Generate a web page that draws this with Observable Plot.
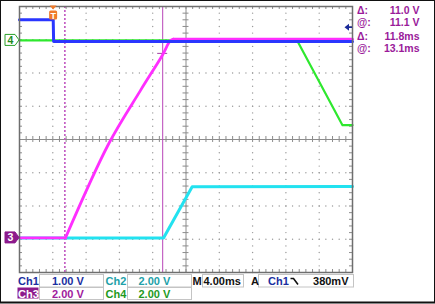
<!DOCTYPE html>
<html><head><meta charset="utf-8">
<script src="https://cdn.jsdelivr.net/npm/d3@7"></script>
<script src="https://cdn.jsdelivr.net/npm/@observablehq/plot@0.6"></script>
<style>
html,body{margin:0;padding:0;background:#fff;}
#chart svg{display:block;}
</style></head>
<body><div id="chart"></div>
<script>
// ---- data (time in ms relative to trigger, values in volts) ----
const timeDomain = [-4.1, 35.9];     // 10 div x 4 ms
const msPerDiv = 4;
const divRange = [-4, 4];

const channelNames = ["Ch1", "Ch2", "Ch3", "Ch4"];
const voltsPerDiv = [1, 2, 2, 2];
const groundDiv = [2.98, -2.96, -2.96, 2.98];
const traceColors = ["#2a36ff", "#22e2f0", "#ff2eff", "#2ee82e"];
const labelColors = ["#1a2fa0", "#22a0a8", "#a0209c", "#1e9a1e"];

const ch1Time  = [-4.1, -0.05, 0, 35.9];
const ch1Volts = [0.62, 0.62, -0.03, -0.03];
const ch2Time  = [-4.1, 13.2, 16.64, 35.9];
const ch2Volts = [0, 0, 3.08, 3.1];
const ch3Time  = [-4.1, 1.42, 6.6, 10.42, 13.03, 14.03, 14.39, 35.9];
const ch3Volts = [0, 0, 5.65, 8.86, 10.96, 11.87, 11.95, 11.95];
const ch4Time  = [-4.1, 29.25, 34.7, 35.9];
const ch4Volts = [0, 0, -5.1, -5.1];

const cursorTimes = [1.35, 13.1];
const cursorVoltCh3 = 11.1;
const triggerTime = 0;
const triggerLevelCh1 = 0.38;

const scaleLabels = ["1.00 V", "2.00 V", "2.00 V", "2.00 V"];
const timebaseLabel = "4.00ms";
const triggerLabel = "380mV";
const cursorReadout = [["Δ:", "11.0 V"], ["@:", "11.1 V"], ["Δ:", "11.8ms"], ["@:", "13.1ms"]];

// ---- build tables ----
const toDiv = (ch, v) => groundDiv[ch] + v / voltsPerDiv[ch];
const traceData = [ch1Time, ch2Time, ch3Time, ch4Time].map((ts, ch) =>
  ts.map((t, i) => ({t, d: toDiv(ch, [ch1Volts, ch2Volts, ch3Volts, ch4Volts][ch][i])})));
// Ch3: flat parts drawn straight, ramp part smoothed
const ch3Flat1 = traceData[2].slice(0, 2);
const ch3Ramp = traceData[2].slice(1, 7);
const ch3Flat2 = traceData[2].slice(6);

const minorX = d3.range(0, 51).map(i => timeDomain[0] + i * msPerDiv / 5);
const minorY = d3.range(0, 41).map(i => divRange[0] + i * 0.2);
const majorX = d3.range(1, 10).filter(k => k !== 5).map(k => timeDomain[0] + k * msPerDiv);
const majorY = [-3, -2, -1, 1, 2, 3];
const centerX = timeDomain[0] + 5 * msPerDiv;
const gridDots = [
  ...majorX.flatMap(x => minorY.map(y => ({x, y}))),
  ...majorY.flatMap(y => minorX.map(x => ({x, y})))
];
const tk = 0.09, tkx = 0.36;
const gridColor = "#9a9a9a";

const plot = Plot.plot({
  width: 435, height: 304,
  marginLeft: 19, marginRight: 83, marginTop: 6, marginBottom: 32,
  x: {domain: timeDomain, axis: null},
  y: {domain: divRange, axis: null},
  style: {background: "#fff", overflow: "visible"},
  marks: [
    Plot.dot(gridDots, {x: "x", y: "y", r: 0.7, fill: gridColor, stroke: null}),
    Plot.ruleY([0], {stroke: "#8c8c8c", strokeWidth: 1}),
    Plot.ruleX([centerX], {stroke: "#8c8c8c", strokeWidth: 1}),
    Plot.ruleX(minorX, {x: d => d, y1: -tk, y2: tk, stroke: "#8c8c8c"}),
    Plot.ruleY(minorY, {y: d => d, x1: centerX - tkx, x2: centerX + tkx, stroke: "#8c8c8c"}),
    Plot.ruleX(minorX, {x: d => d, y1: 4, y2: 4 - tk, stroke: "#8c8c8c"}),
    Plot.ruleX(minorX, {x: d => d, y1: -4, y2: -4 + tk, stroke: "#8c8c8c"}),
    Plot.ruleY(minorY, {y: d => d, x1: timeDomain[0], x2: timeDomain[0] + tkx, stroke: "#8c8c8c"}),
    Plot.ruleY(minorY, {y: d => d, x1: timeDomain[1], x2: timeDomain[1] - tkx, stroke: "#8c8c8c"}),
    // cursors
    Plot.ruleX([cursorTimes[0]], {stroke: "#c055c0", strokeWidth: 1.6, strokeDasharray: "2,2"}),
    Plot.ruleX([cursorTimes[1]], {stroke: "#b844b8", strokeWidth: 1}),
    Plot.ruleY([toDiv(2, cursorVoltCh3)], {x1: cursorTimes[1] - 0.6, x2: cursorTimes[1] + 0.6, stroke: "#a040a0", strokeWidth: 1}),
    // traces
    Plot.line(traceData[3], {x: "t", y: "d", stroke: traceColors[3], strokeWidth: 2.2}),
    Plot.line(traceData[1], {x: "t", y: "d", stroke: traceColors[1], strokeWidth: 3}),
    Plot.line(ch3Flat1, {x: "t", y: "d", stroke: traceColors[2], strokeWidth: 2.8}),
    Plot.line(ch3Ramp, {x: "t", y: "d", stroke: traceColors[2], strokeWidth: 2.8, curve: "catmull-rom"}),
    Plot.line(ch3Flat2, {x: "t", y: "d", stroke: traceColors[2], strokeWidth: 2.8}),
    Plot.line(traceData[0], {x: "t", y: "d", stroke: traceColors[0], strokeWidth: 3}),
    Plot.frame({stroke: "#6e6e6e", strokeWidth: 1.5})
  ]
});
document.getElementById("chart").appendChild(plot);

// ---- instrument chrome ----
const svg = d3.select(plot);
const xs = plot.scale("x"), ys = plot.scale("y");
const font = "'Liberation Sans', Arial, sans-serif";
const txt = (x, y, s, color, opts = {}) => svg.append("text")
  .attr("x", x).attr("y", y).text(s)
  .attr("fill", color).attr("font-family", font)
  .attr("font-size", opts.size || 11).attr("font-weight", opts.weight || "bold")
  .attr("text-anchor", opts.anchor || "start");

// outer black border
svg.append("rect").attr("x", 0.5).attr("y", 0.5).attr("width", 434).attr("height", 302)
  .attr("fill", "none").attr("stroke", "#111").attr("stroke-width", 1);
svg.append("line").attr("x1", 0).attr("x2", 435).attr("y1", 302.5).attr("y2", 302.5)
  .attr("stroke", "#111").attr("stroke-width", 2);

// ground markers for Ch4 and Ch3
[[3, false], [2, true]].forEach(([ch, filled]) => {
  const yc = ys.apply(groundDiv[ch]);
  svg.append("path")
    .attr("d", `M5,${yc - 5.5}H15L19,${yc}L15,${yc + 5.5}H5Z`)
    .attr("fill", filled ? "#8c1a8c" : "#fff")
    .attr("stroke", filled ? "#8c1a8c" : "#2aa02a").attr("stroke-width", 1);
  txt(10.5, yc + 4, channelNames[ch].slice(2), filled ? "#fff" : "#1e8a1e", {anchor: "middle", size: 10.5});
});

// trigger position marker
const tx = xs.apply(triggerTime);
svg.append("path").attr("d", `M${tx - 3.5},5.5H${tx + 3.5}L${tx},9.5Z`).attr("fill", "#f07a2a");
svg.append("rect").attr("x", tx - 4).attr("y", 10.5).attr("width", 8).attr("height", 9)
  .attr("rx", 1.5).attr("fill", "#f07a2a");
txt(tx, 18.5, "T", "#fff", {anchor: "middle", size: 9});

// trigger level marker (Ch1)
const ty = ys.apply(toDiv(0, triggerLevelCh1));
svg.append("path").attr("d", `M344.5,${ty}L349,${ty - 3.5}V${ty + 3.5}Z`).attr("fill", "#1a2a9a");
svg.append("line").attr("x1", 348).attr("x2", 352).attr("y1", ty).attr("y2", ty)
  .attr("stroke", "#1a2a9a").attr("stroke-width", 1.5);

// cursor readouts
const ry = [14, 26, 40, 52];
cursorReadout.forEach(([a, b], i) => {
  txt(357, ry[i], a, "#9a1a9a", {size: 10.5});
  txt(419.5, ry[i], b, "#9a1a9a", {size: 10.5, anchor: "end"});
});

// bottom readout boxes
const box = (x, y, w, h) => svg.append("rect").attr("x", x + 0.5).attr("y", y + 0.5)
  .attr("width", w).attr("height", h).attr("fill", "none").attr("stroke", "#c4c4c4").attr("stroke-width", 1);
box(39, 274, 64, 12.5); box(127, 274, 64, 12.5);
box(39, 287, 64, 12); box(127, 287, 64, 12);
box(202, 274, 41, 12.5); box(258, 274, 95, 12.5);
svg.append("rect").attr("x", 17.5).attr("y", 287.5).attr("width", 21).attr("height", 11).attr("fill", "#8c1a8c");

txt(18, 284.5, channelNames[0], labelColors[0]);
txt(52, 284.5, scaleLabels[0], labelColors[0]);
txt(105.5, 284.5, channelNames[1], labelColors[1]);
txt(138.5, 284.5, scaleLabels[1], labelColors[1]);
txt(18, 297.5, channelNames[2], "#fff");
txt(52, 297.5, scaleLabels[2], labelColors[2]);
txt(105.5, 297.5, channelNames[3], labelColors[3]);
txt(138.5, 297.5, scaleLabels[3], labelColors[3]);
txt(192.5, 284.5, "M", "#111");
txt(203.5, 284.5, timebaseLabel, "#111");
txt(251, 284.5, "A", "#111");
txt(268, 284.5, channelNames[0], labelColors[0]);
svg.append("path").attr("d", "M290.5,278.5H293.5L298,284.5").attr("fill", "none")
  .attr("stroke", "#111").attr("stroke-width", 1.6);
txt(348.5, 284.5, triggerLabel, "#111", {anchor: "end"});
</script>
</body></html>
